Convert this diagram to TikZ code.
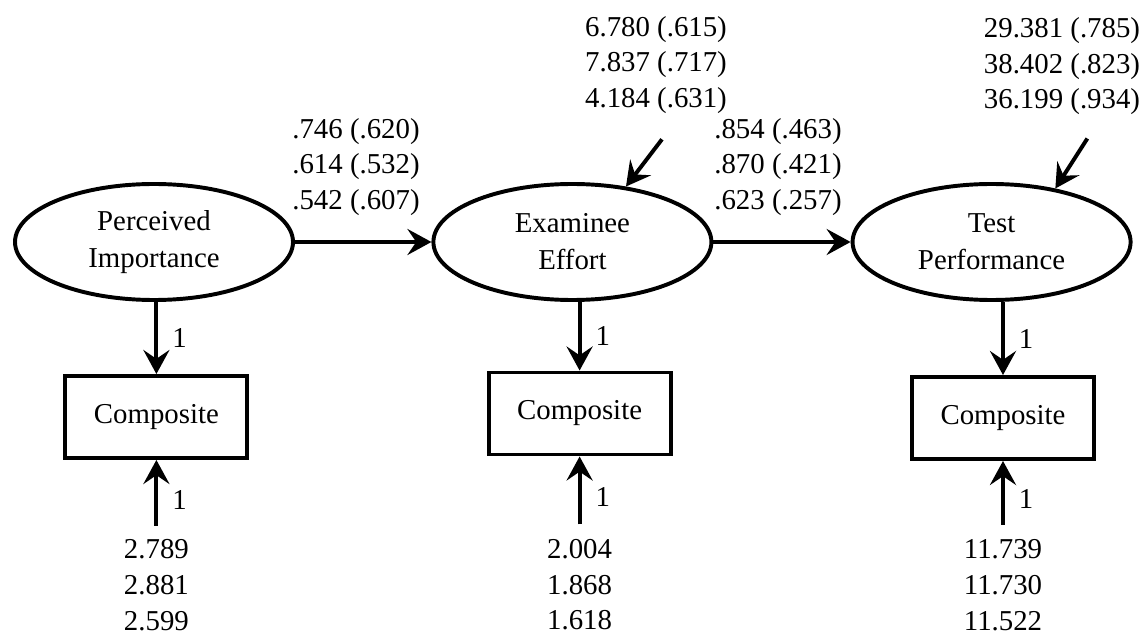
\documentclass[tikz,border=0pt]{standalone}
\usepackage{fontspec}
\setmainfont{Liberation Serif}
\usetikzlibrary{arrows.meta,positioning,shapes.geometric}
\tikzset{
  semtext/.style={font=\fontsize{20.5}{25.4}\selectfont, text=black,
    align=center, inner sep=0pt},
  latentnode/.style={ellipse, draw=black, line width=2.8pt,
    minimum width=6.95cm, minimum height=2.9cm, inner sep=0pt,
    font=\fontsize{20.5}{26.3}\selectfont, align=center},
  compbox/.style={rectangle, draw=black, line width=2.8pt,
    minimum width=4.55cm, minimum height=2.05cm, inner sep=0pt,
    font=\fontsize{20.5}{25.8}\selectfont},
  semflow/.style={-{Stealth[length=6mm, width=6.5mm, inset=2.2mm]},
    draw=black, line width=2.8pt}
}

\begin{document}
\begin{tikzpicture}[x=1cm,y=1cm]
  \useasboundingbox (0,0) rectangle (28.6,15.925);

  % latent variables
  \node[latentnode] (percimp) at (3.85,9.875) {Perceived\\Importance};
  \node[latentnode] (effort) at (14.31,9.875) {Examinee\\Effort};
  \node[latentnode] (testperf) at (24.79,9.875) {Test\\Performance};

  % composites
  \node[compbox] (compa) at (3.91,5.5) {Composite};
  \node[compbox] (compb) at (14.49,5.5875) {Composite};
  \node[compbox] (compc) at (25.075,5.475) {Composite};

  % structural paths
  \draw[semflow] (percimp) -- (effort);
  \draw[semflow] (effort) -- (testperf);
  \node[semtext] (pathab) at (8.9,11.75)
    {.746 (.620)\\.614 (.532)\\.542 (.607)};
  \node[semtext] (pathbc) at (19.45,11.75)
    {.854 (.463)\\.870 (.421)\\.623 (.257)};

  % disturbances
  \coordinate (disteff) at ([shift={(0.9,1.18)}]effort.46);
  \draw[semflow] (disteff) -- (effort.46);
  \node[semtext] (vareff) at (16.4,14.3)
    {6.780 (.615)\\7.837 (.717)\\4.184 (.631)};
  \coordinate (distperf) at ([shift={(0.8,1.25)}]testperf.40);
  \draw[semflow] (distperf) -- (testperf.40);
  \node[semtext] (varperf) at (26.55,14.27)
    {29.381 (.785)\\38.402 (.823)\\36.199 (.934)};

  % loadings
  \draw[semflow] (compa.north |- percimp.south)
    -- node[semtext, right=3.5mm] {1} (compa.north);
  \draw[semflow] (compb.north |- effort.south)
    -- node[semtext, right=3.5mm] {1} (compb.north);
  \draw[semflow] (compc.north |- testperf.south)
    -- node[semtext, right=3.5mm] {1} (compc.north);

  % measurement errors
  \coordinate[below=1.65cm of compa.south] (erra);
  \coordinate[below=1.7cm of compb.south] (errb);
  \coordinate[below=1.6cm of compc.south] (errc);
  \draw[semflow] (erra) -- node[semtext, pos=.4, right=3.5mm] {1} (compa.south);
  \draw[semflow] (errb) -- node[semtext, pos=.4, right=3.5mm] {1} (compb.south);
  \draw[semflow] (errc) -- node[semtext, pos=.4, right=3.5mm] {1} (compc.south);
  \node[semtext, below=3.3mm of erra] (vara) {2.789\\2.881\\2.599};
  \node[semtext, below=3.6mm of errb] (varb) {2.004\\1.868\\1.618};
  \node[semtext, below=3.6mm of errc] (varc) {11.739\\11.730\\11.522};
\end{tikzpicture}
\end{document}
